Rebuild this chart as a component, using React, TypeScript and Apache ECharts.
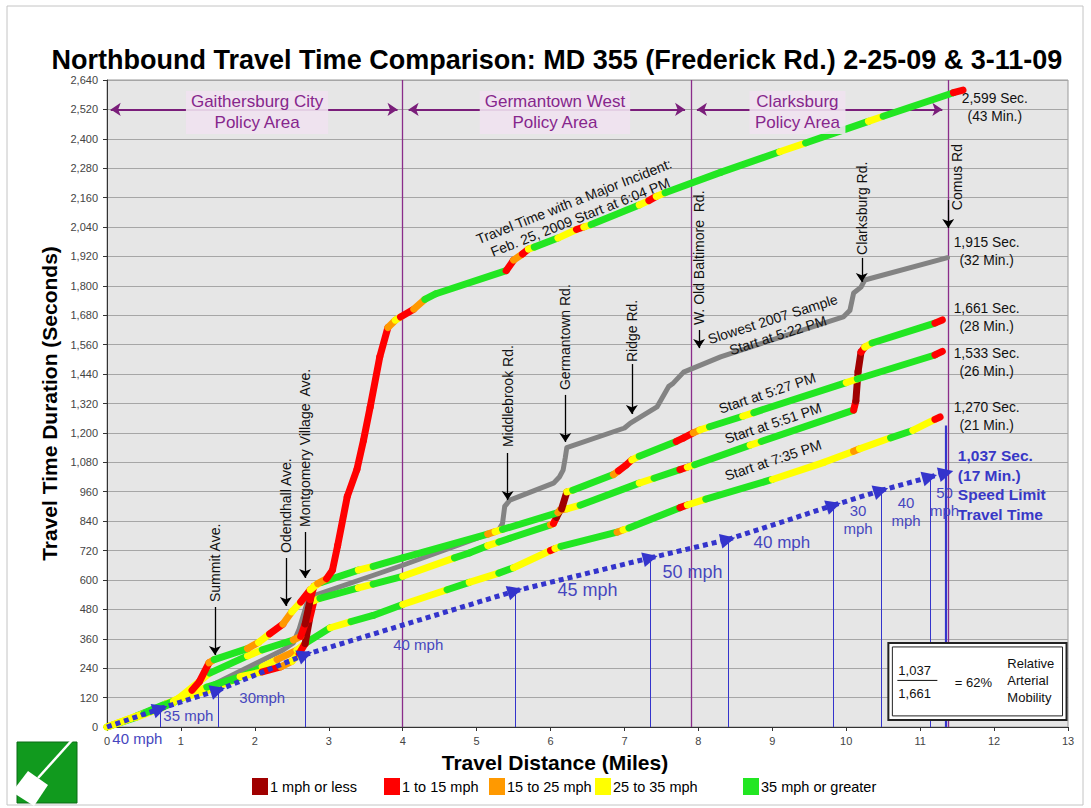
import React, { useEffect, useRef } from 'react';
import * as echarts from 'echarts';

// ---------- DATA ----------
const SPEED_COLORS = ['#a00000', '#ff0000', '#ff9900', '#ffff00', '#22e622'];
const SPEED_LABELS = ['1 mph or less', '1 to 15 mph', '15 to 25 mph', '25 to 35 mph', '35 mph or greater'];
// category index: 0 <=1 mph, 1 1-15, 2 15-25, 3 25-35, 4 >=35

// [miles, seconds, speed category of the segment ending here]
const incidentRun: number[][] = [
  [0, 0, 3], [0.5, 55, 3], [0.9, 105, 4], [1.15, 150, 3], [1.25, 185, 1], [1.38, 262, 1], [1.45, 275, 2],
  [1.9, 320, 4], [2.05, 345, 2], [2.2, 380, 3], [2.38, 420, 1], [2.5, 470, 2], [2.62, 510, 3], [2.75, 560, 1],
  [2.85, 585, 3], [2.97, 605, 2], [3.05, 640, 1], [3.12, 740, 1], [3.25, 940, 1], [3.38, 1050, 1],
  [3.47, 1170, 1], [3.56, 1305, 1], [3.69, 1510, 1], [3.8, 1630, 1], [3.9, 1660, 2], [3.97, 1673, 3],
  [4.15, 1705, 1], [4.3, 1745, 2], [4.45, 1768, 4], [5.4, 1862, 4], [5.5, 1905, 1], [5.62, 1930, 2],
  [5.7, 1950, 1], [5.78, 1958, 3], [6.1, 1995, 4], [6.35, 2030, 3], [6.45, 2040, 1], [6.55, 2050, 3],
  [7.2, 2130, 4], [7.33, 2148, 3], [7.43, 2165, 1], [7.55, 2180, 3], [8.3, 2263, 4], [9.1, 2347, 4],
  [9.45, 2383, 3], [10.3, 2471, 4], [10.5, 2492, 3], [11.45, 2588, 4], [11.58, 2599, 1],
];

const run527: number[][] = [
  [0, 0, 3], [0.6, 65, 3], [0.9, 100, 4], [1.39, 220, 3], [1.9, 290, 4], [2.1, 315, 3], [2.52, 355, 4],
  [2.62, 370, 2], [2.68, 420, 1], [2.75, 520, 0], [2.8, 575, 1], [2.9, 590, 3], [3.4, 640, 4],
  [3.6, 655, 3], [4.0, 690, 4], [5.15, 787, 4], [5.25, 797, 2], [5.35, 806, 3], [6.1, 875, 4],
  [6.15, 890, 2], [6.22, 959, 0], [6.3, 966, 3], [6.85, 1030, 4], [6.92, 1045, 2], [7.02, 1068, 1],
  [7.1, 1090, 1], [7.2, 1105, 3], [7.7, 1165, 4], [7.8, 1180, 1], [7.93, 1200, 1], [8.02, 1212, 2],
  [8.15, 1225, 3], [8.6, 1268, 4], [8.75, 1283, 3], [10.0, 1405, 4], [10.15, 1420, 3], [11.2, 1518, 4],
  [11.3, 1533, 1],
];

const run551: number[][] = [
  [0, 0, 4], [0.4, 45, 3], [0.8, 95, 4], [1.35, 163, 3], [1.8, 205, 4], [2.1, 225, 3], [2.35, 245, 1],
  [2.5, 268, 2], [2.6, 300, 3], [2.68, 340, 1], [2.74, 440, 0], [2.8, 515, 1], [2.88, 525, 3],
  [3.4, 568, 4], [3.6, 583, 3], [4.0, 615, 4], [4.7, 690, 3], [4.9, 710, 4], [5.15, 740, 4],
  [5.3, 755, 3], [5.45, 770, 4], [6.0, 825, 4], [6.04, 830, 2], [6.08, 855, 1], [6.13, 885, 0],
  [6.22, 890, 2], [6.4, 905, 3], [7.2, 995, 4], [7.4, 1015, 3], [7.75, 1050, 4], [7.85, 1060, 1],
  [7.95, 1070, 3], [8.7, 1150, 4], [8.85, 1165, 3], [10.1, 1293, 4], [10.13, 1330, 1], [10.16, 1450, 0],
  [10.2, 1530, 0], [10.25, 1550, 1], [10.35, 1567, 3], [11.2, 1648, 4], [11.3, 1661, 1],
];

const run735: number[][] = [
  [0, 0, 4], [0.4, 40, 4], [0.75, 80, 3], [1.03, 120, 4], [1.35, 148, 3], [1.7, 190, 3], [2.1, 245, 4],
  [2.3, 275, 3], [2.57, 314, 2], [2.7, 345, 3], [3.02, 405, 4], [3.3, 430, 3], [3.6, 455, 4],
  [4.0, 500, 4], [4.6, 560, 3], [4.9, 590, 4], [5.3, 628, 3], [5.5, 650, 4], [6.0, 720, 3],
  [6.06, 728, 1], [6.14, 737, 3], [6.9, 795, 4], [6.98, 804, 2], [7.06, 812, 3], [7.75, 895, 4],
  [7.85, 906, 1], [8.1, 930, 3], [9.0, 1010, 4], [9.7, 1080, 3], [10.1, 1125, 3], [10.18, 1135, 2],
  [10.6, 1180, 3], [10.9, 1210, 4], [11.2, 1255, 3], [11.27, 1265, 1],
];

const slowest2007: number[][] = [
  [0, 0], [0.7, 75], [1.35, 160], [2.38, 314], [2.52, 343], [2.6, 400], [2.7, 500], [2.75, 531],
  [2.84, 540], [4.0, 660], [5.0, 770], [5.3, 805], [5.35, 830], [5.38, 900], [5.45, 926], [6.04, 995],
  [6.12, 1020], [6.17, 1048], [6.2, 1100], [6.22, 1140], [7.0, 1220], [7.08, 1240], [7.44, 1306],
  [7.6, 1390], [7.66, 1403], [7.8, 1448], [8.3, 1510], [9.0, 1580], [9.96, 1673], [10.05, 1700],
  [10.1, 1771], [10.2, 1795], [10.25, 1824], [11.37, 1915],
];

// Speed-limit travel time, breakpoints (miles, seconds)
const speedLimitPts: number[][] = [
  [0, 0], [0.72, 75], [1.5, 150], [2.68, 295], [5.52, 555], [7.35, 690], [8.4, 765],
  [9.83, 905], [10.47, 965], [11.13, 1020], [11.35, 1037],
];
const speedLimitLabels = ['40 mph', '35 mph', '30mph', '40 mph', '45 mph', '50 mph', '40 mph', '30\nmph', '40\nmph', '50\nmph'];
const speedLabelPos: number[][] = [
  [0.41, -45], [1.1, 45], [2.1, 122], [4.21, 335], [6.5, 559], [7.92, 632], [9.13, 751], [10.16, 845], [10.81, 881], [11.33, 920],
];
const speedLabelFont = [15, 15, 15, 15, 18, 18, 17, 15, 15, 15];
const lastSpeedLineTop = 1230;

const policyBounds = [4.0, 7.9, 11.38];
const policyAreas = [
  { name: 'Gaithersburg City\nPolicy Area', from: 0.05, to: 3.93, cx: 2.03 },
  { name: 'Germantown West\nPolicy Area', from: 4.08, to: 7.82, cx: 6.06 },
  { name: 'Clarksburg\nPolicy Area', from: 7.98, to: 11.3, cx: 9.34 },
];
const policyArrowY = 2520;

// street markers: name, x, text bottom, arrow start, arrow tip (seconds)
const streets: (string | number)[][] = [
  ['Summit Ave.', 1.46, 510, 490, 294],
  ['Odendhall Ave.', 2.42, 710, 690, 494],
  ['Montgomery Village  Ave.', 2.68, 816, 796, 608],
  ['Middlebrook Rd.', 5.42, 1142, 1118, 926],
  ['Germantown Rd.', 6.2, 1375, 1355, 1163],
  ['Ridge Rd.', 7.1, 1489, 1481, 1277],
  ['W. Old Baltimore  Rd.', 8.01, 1640, 1620, 1546],
  ['Clarksburg Rd.', 10.21, 1926, 1914, 1816],
];
const comusLabel = { name: 'Comus Rd', x: 11.5, y: 2109, arrowX: 11.38, arrowFrom: 2150, arrowTo: 2036 };

const runLabels: (string | number)[][] = [
  ['Travel Time with a Major Incident:\nFeb. 25, 2009 Start at 6:04 PM', 6.36, 2113, 21.6],
  ['Slowest 2007 Sample\nStart at 5:22 PM', 9.04, 1632, 17.6],
  ['Start at 5:27 PM', 8.93, 1363, 18.4],
  ['Start at 5:51 PM', 9.01, 1240, 18.4],
  ['Start at 7:35 PM', 9.01, 1089, 18.4],
];

const endLabels: (string | number)[][] = [
  ['2,599 Sec.\n(43 Min.)', 12.01, 2526],
  ['1,915 Sec.\n(32 Min.)', 11.9, 1942],
  ['1,661 Sec.\n(28 Min.)', 11.9, 1669],
  ['1,533 Sec.\n(26 Min.)', 11.9, 1489],
  ['1,270 Sec.\n(21 Min.)', 11.9, 1265],
];
const speedLimitText = { text: '1,037 Sec.\n(17 Min.)\nSpeed Limit\nTravel Time', x: 11.51, y: 1147 };

const mobility = { num: '1,037', den: '1,661', pct: '= 62%', label: 'Relative\nArterial\nMobility' };
const mobilityBox = { x0: 10.57, x1: 12.98, y0: 343, y1: 29 };

const TITLE = 'Northbound Travel Time Comparison: MD 355 (Frederick Rd.) 2-25-09 & 3-11-09';
const X_MIN = 0, X_MAX = 13, X_STEP = 1;
const Y_MIN = 0, Y_MAX = 2640, Y_STEP = 120;

const FONT = 'Arial, "Liberation Sans", Helvetica, sans-serif';
const BLUE = '#3434cc';

function segments(run: number[][]) {
  const out: any[] = [];
  for (let i = 1; i < run.length; i++) {
    out.push({
      coords: [[run[i - 1][0], run[i - 1][1]], [run[i][0], run[i][1]]],
      lineStyle: { color: SPEED_COLORS[run[i][2]] },
    });
  }
  return out;
}

export default function App() {
  const ref = useRef<HTMLDivElement>(null);

  useEffect(() => {
    document.body.style.margin = '0';
    const chart = echarts.init(ref.current!, null, { renderer: 'svg' });

    const runSeries = (run: number[][]) => ({
      type: 'lines',
      coordinateSystem: 'cartesian2d',
      silent: true,
      lineStyle: { width: 7, opacity: 1, cap: 'round', join: 'round' },
      data: segments(run),
      z: 4,
    });

    const option: any = {
      animation: false,
      backgroundColor: '#ffffff',
      title: {
        text: TITLE,
        left: 552,
        top: 41,
        textAlign: 'center',
        textStyle: { fontFamily: FONT, fontSize: 27, fontWeight: 'bold', color: '#000' },
      },
      grid: {
        left: 107, right: 23, top: 80, bottom: 81,
        show: true, backgroundColor: '#e6e6e6', borderColor: '#9a9a9a', borderWidth: 1,
      },
      xAxis: {
        type: 'value', min: X_MIN, max: X_MAX, interval: X_STEP,
        name: 'Travel Distance (Miles)', nameLocation: 'middle', nameGap: 25,
        nameTextStyle: { fontFamily: FONT, fontSize: 21, fontWeight: 'bold', color: '#000', padding: [0, 65, 0, 0] },
        axisLine: { lineStyle: { color: '#333', width: 1 } },
        axisTick: { show: true, length: 4, lineStyle: { color: '#333' } },
        axisLabel: { fontFamily: FONT, fontSize: 11, color: '#444', margin: 8 },
        splitLine: { show: false },
      },
      yAxis: {
        type: 'value', min: Y_MIN, max: Y_MAX, interval: Y_STEP,
        name: 'Travel Time Duration (Seconds)', nameLocation: 'middle', nameGap: 41,
        nameTextStyle: { fontFamily: FONT, fontSize: 21, fontWeight: 'bold', color: '#000' },
        axisLine: { show: true, lineStyle: { color: '#333', width: 1 } },
        axisTick: { show: true, length: 4, lineStyle: { color: '#333' } },
        axisLabel: {
          fontFamily: FONT, fontSize: 11, color: '#444', margin: 9,
          formatter: (v: number) => v.toLocaleString('en-US'),
        },
        splitLine: { show: true, lineStyle: { color: '#a6a6a6', width: 1 } },
      },
      series: [
        {
          type: 'lines', coordinateSystem: 'cartesian2d', silent: true, z: 2,
          lineStyle: { color: '#8a2d8a', width: 1.3, opacity: 1 },
          data: policyBounds.map((x) => ({ coords: [[x, Y_MIN], [x, Y_MAX]] })),
        },
        {
          type: 'lines', coordinateSystem: 'cartesian2d', silent: true, z: 2,
          lineStyle: { color: BLUE, width: 1, opacity: 1 },
          data: speedLimitPts.slice(1).map((p, i, arr) => ({
            coords: [[p[0], 0], [p[0], i === arr.length - 1 ? lastSpeedLineTop : p[1]]],
            lineStyle: i === arr.length - 1 ? { width: 2.2 } : undefined,
          })),
        },
        {
          type: 'lines', coordinateSystem: 'cartesian2d', silent: true, z: 3,
          symbol: ['arrow', 'arrow'], symbolSize: 10,
          lineStyle: { color: '#7a1e7a', width: 2, opacity: 1 },
          data: policyAreas.map((a) => ({ coords: [[a.from, policyArrowY], [a.to, policyArrowY]] })),
        },
        {
          type: 'line', silent: true, z: 3, showSymbol: false, symbol: 'none',
          lineStyle: { color: '#838383', width: 5, join: 'round', cap: 'round' },
          data: slowest2007,
        },
        runSeries(run735),
        runSeries(run551),
        runSeries(run527),
        runSeries(incidentRun),
        {
          type: 'lines', coordinateSystem: 'cartesian2d', silent: true, z: 6,
          symbol: ['none', 'triangle'], symbolSize: [13, 15],
          lineStyle: { color: BLUE, width: 5, type: [5, 4], opacity: 1 },
          data: speedLimitPts.slice(1).map((p, i) => ({ coords: [[speedLimitPts[i][0], speedLimitPts[i][1]], [p[0], p[1]]] })),
        },
        {
          type: 'lines', coordinateSystem: 'cartesian2d', silent: true, z: 7,
          symbol: ['none', 'arrow'], symbolSize: 9,
          lineStyle: { color: '#000', width: 1.3, opacity: 1 },
          data: [
            ...streets.map((s) => ({ coords: [[s[1] as number, s[3] as number], [s[1] as number, s[4] as number]] })),
            { coords: [[comusLabel.arrowX, comusLabel.arrowFrom], [comusLabel.arrowX, comusLabel.arrowTo]] },
          ],
        },
      ],
    };
    chart.setOption(option);

    const P = (x: number, y: number) => chart.convertToPixel({ gridIndex: 0 }, [x, y]) as number[];
    const g: any[] = [];

    // outer frame
    g.push({ type: 'rect', shape: { x: 7, y: 6, width: 1076, height: 799 }, style: { fill: 'none', stroke: '#c4c4c4', lineWidth: 1 }, z: 0 });

    // logo
    g.push({ type: 'rect', shape: { x: 17, y: 742, width: 60, height: 61 }, style: { fill: '#119a1e', stroke: '#0b6b14', lineWidth: 1 }, z: 10 });
    g.push({ type: 'line', shape: { x1: 74, y1: 738, x2: 38, y2: 778 }, style: { stroke: '#ffffff', lineWidth: 2.5 }, z: 11 });
    g.push({ type: 'polygon', shape: { points: [[28, 771], [48, 785], [34, 806], [12, 792]] }, style: { fill: '#ffffff' }, z: 11 });

    // legend
    const legX = [252, 384, 489, 595, 743];
    SPEED_LABELS.forEach((lab, i) => {
      g.push({ type: 'rect', shape: { x: legX[i], y: 778, width: 16, height: 17 }, style: { fill: SPEED_COLORS[i] }, z: 10 });
      g.push({ type: 'text', x: legX[i] + 18, y: 787, style: { text: lab, fill: '#000', font: `14.5px ${FONT}`, verticalAlign: 'middle', align: 'left' }, z: 10 });
    });

    // policy area labels
    policyAreas.forEach((a) => {
      const [px, py] = P(a.cx, policyArrowY);
      g.push({
        type: 'text', x: px, y: py + 3, z: 20,
        style: {
          text: a.name, fill: '#86268c', font: `17px ${FONT}`, align: 'center', verticalAlign: 'middle',
          lineHeight: 21, backgroundColor: 'rgba(240,226,240,0.9)', padding: [1, 5, 0, 5],
        },
      });
    });

    // street labels (rotated)
    streets.forEach((s) => {
      const [px, py] = P(s[1] as number, s[2] as number);
      g.push({ type: 'text', x: px, y: py, rotation: Math.PI / 2, z: 20, style: { text: s[0], fill: '#111', font: `14px ${FONT}`, align: 'left', verticalAlign: 'middle' } });
    });
    {
      const [px, py] = P(comusLabel.x, comusLabel.y);
      g.push({ type: 'text', x: px, y: py, rotation: Math.PI / 2, z: 20, style: { text: comusLabel.name, fill: '#111', font: `14px ${FONT}`, align: 'left', verticalAlign: 'middle' } });
    }

    // slanted run labels
    runLabels.forEach((r) => {
      const [px, py] = P(r[1] as number, r[2] as number);
      g.push({ type: 'text', x: px, y: py, rotation: ((r[3] as number) * Math.PI) / 180, z: 20, style: { text: r[0], fill: '#111', font: `14px ${FONT}`, align: 'center', verticalAlign: 'middle', lineHeight: 17 } });
    });

    // end labels
    endLabels.forEach((e) => {
      const [px, py] = P(e[1] as number, e[2] as number);
      g.push({ type: 'text', x: px, y: py, z: 20, style: { text: e[0], fill: '#111', font: `13.8px ${FONT}`, align: 'center', verticalAlign: 'middle', lineHeight: 18 } });
    });

    // speed labels
    speedLimitLabels.forEach((t, i) => {
      const [px, py] = P(speedLabelPos[i][0], speedLabelPos[i][1]);
      g.push({ type: 'text', x: px, y: py, z: 20, style: { text: t, fill: '#4646be', font: `${speedLabelFont[i]}px ${FONT}`, align: 'center', verticalAlign: 'middle', lineHeight: 18 } });
    });

    // speed limit bold label
    {
      const [px, py] = P(speedLimitText.x, speedLimitText.y);
      g.push({ type: 'text', x: px, y: py, z: 20, style: { text: speedLimitText.text, fill: '#3838c6', font: `bold 15.5px ${FONT}`, align: 'left', verticalAlign: 'top', lineHeight: 19.5 } });
    }

    // mobility box
    {
      const [bx0, by0] = P(mobilityBox.x0, mobilityBox.y0);
      const [bx1, by1] = P(mobilityBox.x1, mobilityBox.y1);
      g.push({ type: 'rect', shape: { x: bx0, y: by0, width: bx1 - bx0, height: by1 - by0 }, style: { fill: '#ffffff', stroke: '#222', lineWidth: 2 }, z: 25 });
      g.push({ type: 'rect', shape: { x: bx0 + 4, y: by0 + 4, width: bx1 - bx0 - 8, height: by1 - by0 - 8 }, style: { fill: 'none', stroke: '#222', lineWidth: 1 }, z: 25 });
      const cy = (by0 + by1) / 2;
      g.push({ type: 'text', x: bx0 + 10, y: cy - 11, z: 26, style: { text: mobility.num, fill: '#111', font: `13px ${FONT}`, align: 'left', verticalAlign: 'middle' } });
      g.push({ type: 'line', shape: { x1: bx0 + 9, y1: cy - 1, x2: bx0 + 49, y2: cy - 1 }, style: { stroke: '#111', lineWidth: 1 }, z: 26 });
      g.push({ type: 'text', x: bx0 + 10, y: cy + 12, z: 26, style: { text: mobility.den, fill: '#111', font: `13px ${FONT}`, align: 'left', verticalAlign: 'middle' } });
      g.push({ type: 'text', x: bx0 + 85, y: cy + 1, z: 26, style: { text: mobility.pct, fill: '#111', font: `13px ${FONT}`, align: 'center', verticalAlign: 'middle' } });
      g.push({ type: 'text', x: bx0 + 119, y: cy - 1, z: 26, style: { text: mobility.label, fill: '#111', font: `13px ${FONT}`, align: 'left', verticalAlign: 'middle', lineHeight: 17 } });
    }

    chart.setOption({ graphic: { elements: g } });

    return () => chart.dispose();
  }, []);

  return <div ref={ref} style={{ width: 1091, height: 808 }} />;
}
